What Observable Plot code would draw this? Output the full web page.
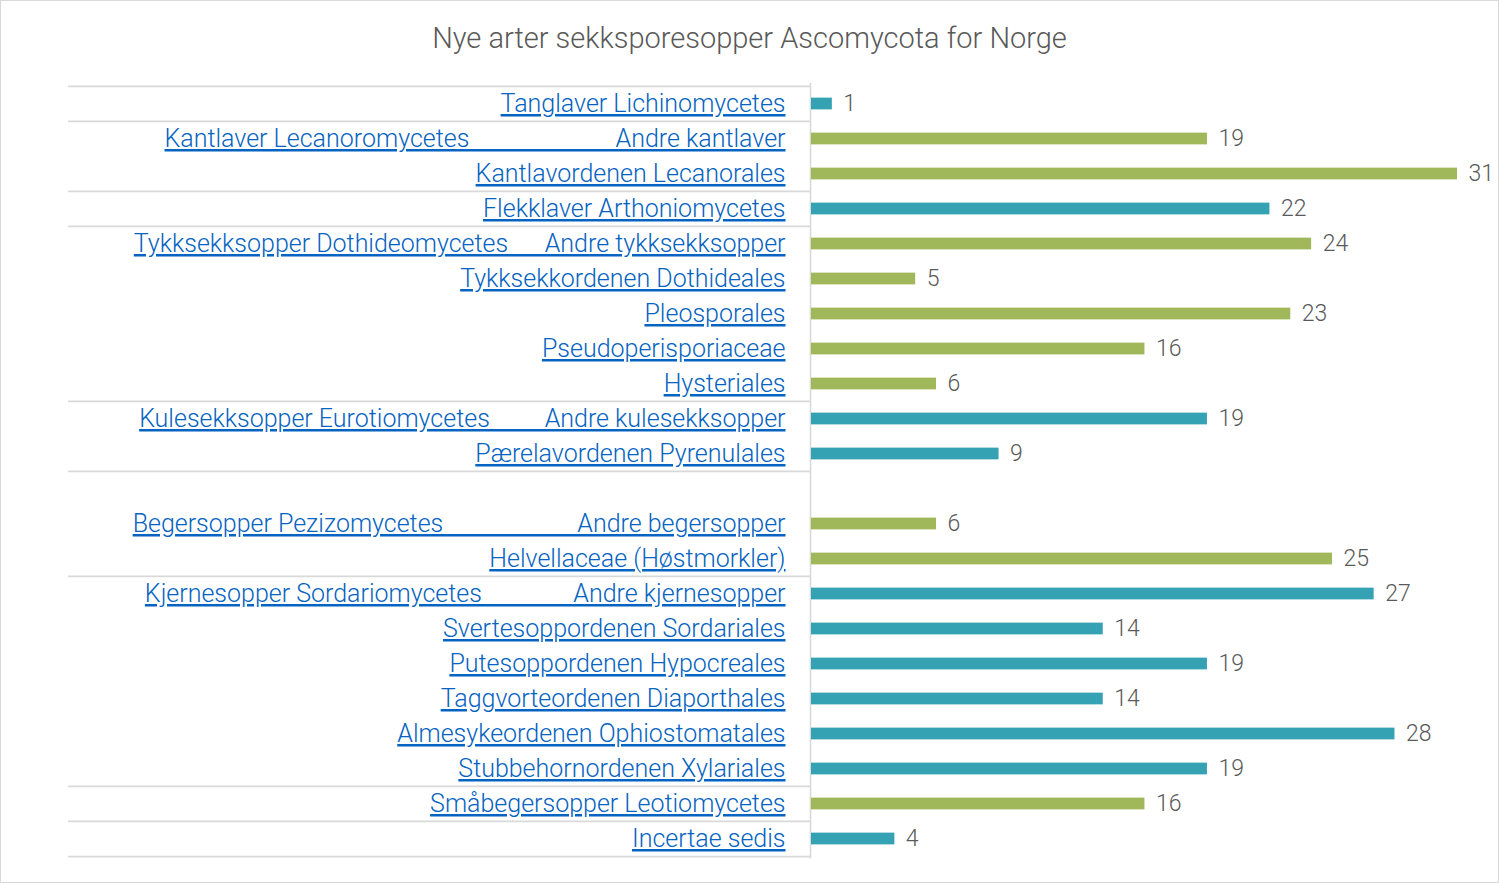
<!DOCTYPE html>
<html><head><meta charset="utf-8">
<script src="https://cdn.jsdelivr.net/npm/d3@7"></script>
<script src="https://cdn.jsdelivr.net/npm/@observablehq/plot@0.6"></script>
<style>
html,body{margin:0;padding:0;background:#fff;}
#wrap{width:1499px;height:883px;box-sizing:border-box;border:1px solid #d9d9d9;overflow:hidden;font-family:"Roboto Light",Roboto,"Noto Sans",sans-serif;}
#title{height:70px;line-height:74px;text-align:center;font-weight:300;font-size:29px;color:#595959;white-space:nowrap;}
#chart svg{display:block;}
</style></head>
<body>
<div id="wrap"><div id="title">Nye arter sekksporesopper Ascomycota for Norge</div><div id="chart"></div></div>
<script>
const NB = "\u00A0";
const pad = (a, n, b) => a + NB.repeat(n) + b;

const rowLabels = [
  "Tanglaver Lichinomycetes",
  pad("Kantlaver Lecanoromycetes", 24, "Andre kantlaver"),
  "Kantlavordenen Lecanorales",
  "Flekklaver Arthoniomycetes",
  pad("Tykksekksopper Dothideomycetes", 6, "Andre tykksekksopper"),
  "Tykksekkordenen Dothideales",
  "Pleosporales",
  "Pseudoperisporiaceae",
  "Hysteriales",
  pad("Kulesekksopper Eurotiomycetes", 9, "Andre kulesekksopper"),
  "Pærelavordenen Pyrenulales",
  "",
  pad("Begersopper Pezizomycetes", 22, "Andre begersopper"),
  "Helvellaceae (Høstmorkler)",
  pad("Kjernesopper Sordariomycetes", 15, "Andre kjernesopper"),
  "Svertesoppordenen Sordariales",
  "Putesoppordenen Hypocreales",
  "Taggvorteordenen Diaporthales",
  "Almesykeordenen Ophiostomatales",
  "Stubbehornordenen Xylariales",
  "Småbegersopper Leotiomycetes",
  "Incertae sedis"
];
const values = [1, 19, 31, 22, 24, 5, 23, 16, 6, 19, 9, null, 6, 25, 27, 14, 19, 14, 28, 19, 16, 4];
const series = ["blå", "grønn", "grønn", "blå", "grønn", "grønn", "grønn", "grønn", "grønn", "blå", "blå", null,
                "grønn", "grønn", "blå", "blå", "blå", "blå", "blå", "blå", "grønn", "blå"];
const groups = ["Lichinomycetes", "Lecanoromycetes", "Lecanoromycetes", "Arthoniomycetes",
  "Dothideomycetes", "Dothideomycetes", "Dothideomycetes", "Dothideomycetes", "Dothideomycetes",
  "Eurotiomycetes", "Eurotiomycetes",
  "Pezizomycetes", "Pezizomycetes", "Pezizomycetes",
  "Sordariomycetes", "Sordariomycetes", "Sordariomycetes", "Sordariomycetes", "Sordariomycetes", "Sordariomycetes",
  "Leotiomycetes", "Incertae"];

const rows = rowLabels.map((label, i) => ({i, label, value: values[i], series: series[i], group: groups[i]}));
const barRows = rows.filter(d => d.value != null);
const groupStarts = rows.filter((d, i) => i === 0 || groups[i] !== groups[i - 1]);
const lastRow = [rows[rows.length - 1]];

const W = 1497, H = 811;
const mL = 810, mR = 41, mT = 12, mB = 23.5;
const step = (H - mT - mB) / rows.length;
const barH = 12;
const inset = (step - barH) / 2;
const gridColor = "#d9d9d9";
const labelColor = "#0563c1";
const ruleLeft = 67, ruleRight = 809;
const font = "'Roboto Light', Roboto, 'Noto Sans', sans-serif";

const chart = Plot.plot({
  width: W, height: H,
  marginLeft: mL, marginRight: mR, marginTop: mT, marginBottom: mB,
  style: {fontFamily: font, background: "#fff"},
  x: {domain: [0, 31], axis: null},
  y: {type: "band", domain: d3.range(rows.length), padding: 0, axis: null},
  color: {domain: ["blå", "grønn"], range: ["#35a2b4", "#a1b85a"]},
  marks: [
    Plot.ruleY(groupStarts, {y: "i", dy: -step / 2, stroke: gridColor, strokeWidth: 1.6,
      insetLeft: ruleLeft - mL, insetRight: (W - mR) - ruleRight}),
    Plot.ruleY(lastRow, {y: "i", dy: step / 2, stroke: gridColor, strokeWidth: 1.6,
      insetLeft: ruleLeft - mL, insetRight: (W - mR) - ruleRight}),
    Plot.ruleX([0], {dx: -1, stroke: gridColor, strokeWidth: 1.6}),
    Plot.barX(barRows, {x: "value", y: "i", fill: "series", insetTop: inset, insetBottom: inset}),
    Plot.text(barRows, {x: "value", y: "i", text: d => String(d.value), dx: 11, textAnchor: "start",
      fill: "#595959", fontSize: 23, fontWeight: 300}),
    Plot.text(rows, {y: "i", text: "label", frameAnchor: "left", dx: -26, textAnchor: "end",
      fill: labelColor, fontSize: 25, fontWeight: 300})
  ]
});
d3.select(chart).selectAll("text").filter(function () {
  return this.getAttribute("fill") === labelColor || (this.parentNode && this.parentNode.getAttribute("fill") === labelColor);
}).style("text-decoration", "underline");
document.getElementById("chart").appendChild(chart);
</script>
</body></html>
